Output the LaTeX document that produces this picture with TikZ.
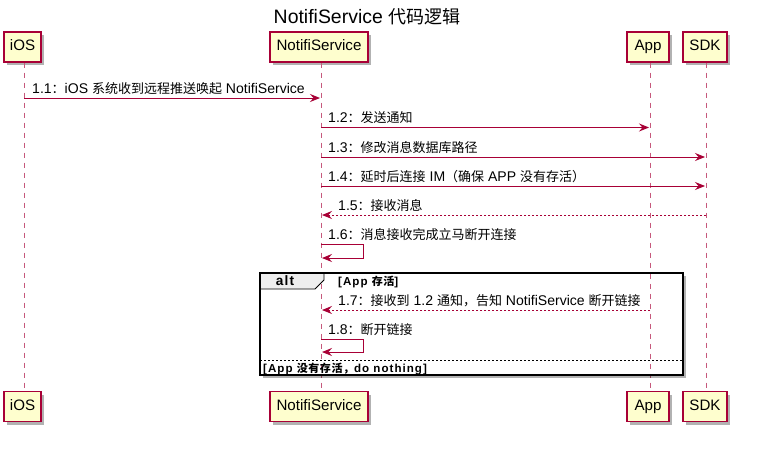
\documentclass[tikz,border=0pt]{standalone}
\usepackage{fontspec}
\setmainfont{Liberation Sans}[Scale=1.08]
\newfontfamily\cjk{Noto Sans CJK SC}
\newfontfamily\gfont{Liberation Sans}[LetterSpace=9,Scale=1.05]
\newfontfamily\gcjk{Noto Sans CJK SC}[LetterSpace=5]
\newcommand\zh[1]{{\cjk #1}}
\newcommand\gzh[1]{{\gcjk #1}}
\usetikzlibrary{arrows.meta,shadows}
\definecolor{umlred}{HTML}{A80036}
\definecolor{umlfill}{HTML}{FEFECE}
\definecolor{tabgray}{HTML}{EEEEEE}
\tikzset{
  part/.style={draw=umlred,fill=umlfill,line width=1.3pt,minimum height=30pt,inner sep=0pt,
    text height=10pt,text depth=3pt,
    font=\fontsize{14}{16}\selectfont,
    drop shadow={shadow xshift=3pt,shadow yshift=-3pt,opacity=0.3,fill=black}},
  life/.style={draw=umlred!65,line width=1pt,dash pattern=on 5pt off 5pt},
  msg/.style={draw=umlred,line width=1pt,-{Stealth[length=10pt,width=8pt,inset=3.5pt]}},
  ret/.style={msg,dash pattern=on 2pt off 2pt},
  lbl/.style={anchor=base west,inner sep=0pt,font=\fontsize{13}{15}\selectfont},
  guard/.style={anchor=base west,inner sep=0pt,font=\fontsize{11}{13}\selectfont\bfseries\gfont},
}
\begin{document}
\begin{tikzpicture}[x=1pt,y=-1pt]
\useasboundingbox (0,0) rectangle (759,453);
\fill[white] (0,0) rectangle (759,453);
% title
\node[font=\fontsize{18}{21}\selectfont,inner sep=0pt] (title) at (367,17) {NotifiService \zh{代码逻辑}};
% participants
\node[part,minimum width=37pt] (iosT) at (22.5,47) {iOS};
\node[part,minimum width=98pt] (nsT) at (319,47) {NotifiService};
\node[part,minimum width=42pt] (appT) at (648,47) {App};
\node[part,minimum width=44pt] (sdkT) at (705,47) {SDK};
\node[part,minimum width=37pt] (iosB) at (22.5,406.5) {iOS};
\node[part,minimum width=98pt] (nsB) at (319,406.5) {NotifiService};
\node[part,minimum width=42pt] (appB) at (648,406.5) {App};
\node[part,minimum width=44pt] (sdkB) at (705,406.5) {SDK};
% lifelines
\coordinate (iosL1) at (24,62.5); \coordinate (iosL2) at (24,391);
\coordinate (nsL1) at (321,62.5); \coordinate (nsL2) at (321,391);
\coordinate (appL1) at (650,62.5); \coordinate (appL2) at (650,391);
\coordinate (sdkL1) at (706,62.5); \coordinate (sdkL2) at (706,391);
\draw[life] (iosL1) -- (iosL2);
\draw[life] (nsL1) -- (nsL2);
\draw[life] (appL1) -- (appL2);
\draw[life] (sdkL1) -- (sdkL2);
% alt frame
\path[drop shadow={shadow xshift=3pt,shadow yshift=-3pt,opacity=0.3,fill=black},fill=white] (260,273) rectangle (683,375);
\draw[life] (321,273.8) -- (321,374.2);
\draw[life] (650,273.8) -- (650,374.2);
\draw[fill=tabgray,line width=0.8pt] (260,273) -- (324,273) -- (324,280) -- (315,289) -- (260,289) -- cycle;
\draw[line width=1.5pt] (260,273) rectangle (683,375);
\node[font=\fontsize{13}{15}\selectfont\bfseries\gfont,inner sep=0pt] (alttxt) at (285,281) {alt};
\node[guard] (g1) at (338,285) {[App \gzh{存活}]};
\draw[line width=0.8pt,dash pattern=on 2pt off 2pt] (260,360) -- (683,360);
\node[guard] (g2) at (263,372) {[App \gzh{没有存活，}do nothing]};
% messages
\coordinate (m1a) at (24,98); \coordinate (m1b) at (320,98);
\draw[msg] (m1a) -- (m1b);
\node[lbl] (l1) at (32,93) {1.1\zh{：}iOS \zh{系统收到远程推送唤起} NotifiService};
\coordinate (m2a) at (321,127.5); \coordinate (m2b) at (649,127.5);
\draw[msg] (m2a) -- (m2b);
\node[lbl] (l2) at (328,122.5) {1.2\zh{：发送通知}};
\coordinate (m3a) at (321,157); \coordinate (m3b) at (705,157);
\draw[msg] (m3a) -- (m3b);
\node[lbl] (l3) at (328,152) {1.3\zh{：修改消息数据库路径}};
\coordinate (m4a) at (321,186); \coordinate (m4b) at (705,186);
\draw[msg] (m4a) -- (m4b);
\node[lbl] (l4) at (328,181) {1.4\zh{：延时后连接} IM\zh{（确保} APP \zh{没有存活）}};
\coordinate (m5a) at (706,215); \coordinate (m5b) at (322,215);
\draw[ret] (m5a) -- (m5b);
\node[lbl] (l5) at (338,210) {1.5\zh{：接收消息}};
\coordinate (m6a) at (321,244); \coordinate (m6b) at (363,244);
\coordinate (m6c) at (363,258); \coordinate (m6d) at (322,258);
\draw[msg] (m6a) -- (m6b) -- (m6c) -- (m6d);
\node[lbl] (l6) at (328,239.5) {1.6\zh{：消息接收完成立马断开连接}};
\coordinate (m7a) at (650,310); \coordinate (m7b) at (322,310);
\draw[ret] (m7a) -- (m7b);
\node[lbl] (l7) at (338,305) {1.7\zh{：接收到} 1.2 \zh{通知，告知} NotifiService \zh{断开链接}};
\coordinate (m8a) at (321,339); \coordinate (m8b) at (363,339);
\coordinate (m8c) at (363,352); \coordinate (m8d) at (322,352);
\draw[msg] (m8a) -- (m8b) -- (m8c) -- (m8d);
\node[lbl] (l8) at (328,334.5) {1.8\zh{：断开链接}};
\end{tikzpicture}
\end{document}
